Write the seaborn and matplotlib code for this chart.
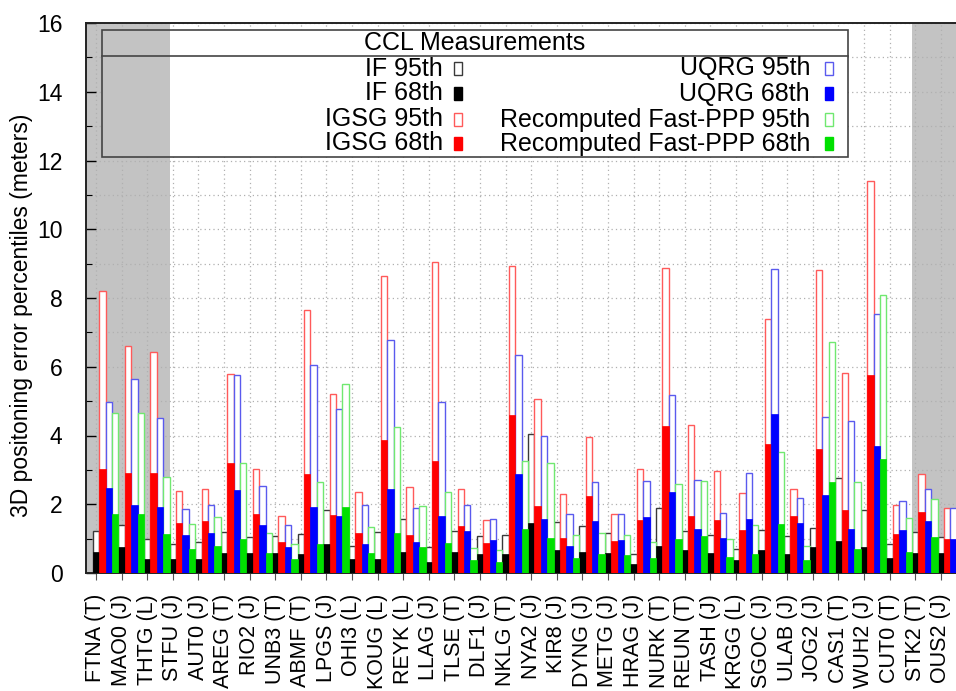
import numpy as np
import pandas as pd
import matplotlib
matplotlib.use("Agg")
import matplotlib.pyplot as plt
from matplotlib.patches import Rectangle
import seaborn as sns

stations = ["FTNA (T)", "MAO0 (J)", "THTG (L)", "STFU (J)", "AUT0 (J)", "AREG (T)",
            "RIO2 (J)", "UNB3 (T)", "ABMF (T)", "LPGS (J)", "OHI3 (L)", "KOUG (L)",
            "REYK (L)", "LLAG (J)", "TLSE (T)", "DLF1 (J)", "NKLG (T)", "NYA2 (J)",
            "KIR8 (J)", "DYNG (J)", "METG (J)", "HRAG (J)", "NURK (T)", "REUN (T)",
            "TASH (J)", "KRGG (L)", "SGOC (J)", "ULAB (J)", "JOG2 (J)", "CAS1 (T)",
            "WUH2 (J)", "CUT0 (T)", "STK2 (T)", "OUS2 (J)"]

if95 = [1.22, 1.40, 1.00, 0.83, 0.89, 1.20, 1.06, 1.08, 1.14, 1.82, 0.78, 1.19,
        1.58, 0.75, 1.23, 1.08, 1.10, 4.04, 1.47, 1.36, 1.16, 0.56, 1.88, 1.21,
        1.11, 0.71, 1.24, 1.09, 1.32, 2.76, 1.84, 0.85, 1.19, 1.05]
if68 = [0.62, 0.75, 0.42, 0.40, 0.40, 0.59, 0.58, 0.58, 0.54, 0.83, 0.42, 0.42,
        0.61, 0.32, 0.61, 0.56, 0.54, 1.45, 0.66, 0.61, 0.58, 0.27, 0.80, 0.68,
        0.58, 0.39, 0.68, 0.56, 0.75, 0.92, 0.76, 0.45, 0.58, 0.58]
igsg95 = [8.19, 6.61, 6.44, 2.40, 2.45, 5.79, 3.03, 1.67, 7.66, 5.21, 2.35, 8.65,
          2.50, 9.06, 2.43, 1.53, 8.92, 5.07, 2.30, 3.95, 1.72, 3.02, 8.86, 4.30,
          2.98, 2.32, 7.39, 2.45, 8.81, 5.81, 11.41, 1.99, 2.88, 1.89]
igsg68 = [3.03, 2.90, 2.90, 1.46, 1.51, 3.19, 1.72, 0.89, 2.88, 1.69, 1.17, 3.87,
          1.11, 3.27, 1.38, 0.87, 4.61, 1.96, 1.01, 2.25, 0.93, 1.55, 4.29, 1.67,
          1.53, 1.26, 3.76, 1.65, 3.60, 1.84, 5.75, 1.14, 1.77, 1.00]
uqrg95 = [4.98, 5.64, 4.51, 1.85, 1.99, 5.75, 2.53, 1.39, 6.06, 4.77, 1.97, 6.79,
          1.88, 4.97, 1.98, 1.58, 6.34, 4.00, 1.72, 2.66, 1.72, 2.67, 5.19, 2.71,
          1.76, 2.91, 8.84, 2.19, 4.55, 4.43, 7.53, 2.09, 2.43, 1.89]
uqrg68 = [2.46, 1.98, 1.92, 1.10, 1.16, 2.42, 1.41, 0.76, 1.92, 1.66, 0.85, 2.43,
          0.89, 1.67, 1.21, 0.95, 2.88, 1.57, 0.79, 1.51, 0.97, 1.63, 2.35, 1.27,
          1.02, 1.58, 4.62, 1.45, 2.28, 1.29, 3.70, 1.24, 1.51, 0.98]
fppp95 = [4.66, 4.66, 2.78, 1.44, 1.62, 3.20, 1.16, 0.85, 2.65, 5.50, 1.34, 4.24,
          1.95, 2.35, 0.74, 0.66, 3.25, 3.20, 1.12, 1.15, 1.10, 0.90, 2.58, 2.69,
          0.98, 1.41, 3.51, 0.78, 6.71, 2.64, 8.09, 1.59, 2.16, np.nan]
fppp68 = [1.72, 1.72, 1.14, 0.70, 0.80, 0.99, 0.58, 0.42, 0.83, 1.92, 0.58, 1.16,
          0.76, 0.87, 0.37, 0.32, 1.28, 1.01, 0.45, 0.56, 0.51, 0.45, 1.00, 1.08,
          0.46, 0.54, 1.43, 0.37, 2.64, 0.70, 3.32, 0.62, 1.06, np.nan]

methods = ["IF", "IGSG", "UQRG", "Recomputed Fast-PPP"]
edge95 = ["#3a3a3a", "#ff5a5a", "#5a5aee", "#70e870"]
fill68 = ["#000000", "#ff0000", "#0000ff", "#00e000"]

rows = []
for i, s in enumerate(stations):
    for m, a95, a68 in zip(methods, [if95, igsg95, uqrg95, fppp95],
                           [if68, igsg68, uqrg68, fppp68]):
        rows.append({"station": s, "method": m, "p95": a95[i], "p68": a68[i]})
df = pd.DataFrame(rows)

plt.rcParams["font.family"] = ["Liberation Sans", "DejaVu Sans"]

W, H = 956, 691
fig = plt.figure(figsize=(W / 100, H / 100), dpi=100)
ax = fig.add_axes([86 / W, 1 - 573 / H, (W - 86) / W, 550 / H])

def px2x(px):
    return (px - 96) / 25.6 - 0.375

def py2y(py):
    return (573 - py) / 34.375

gray = "#c3c3c3"

sns.barplot(data=df, x="station", y="p95", hue="method", order=stations,
            hue_order=methods, palette=["#ffffff"] * 4, width=1.0, dodge=True,
            errorbar=None, legend=False, saturation=1, ax=ax)
for cont, ec in zip(ax.containers[:4], edge95):
    for p in cont:
        p.set_facecolor("white")
        p.set_edgecolor(ec)
        p.set_linewidth(1.0)
        p.set_zorder(2)

sns.barplot(data=df, x="station", y="p68", hue="method", order=stations,
            hue_order=methods, palette=fill68, width=1.0, dodge=True,
            errorbar=None, legend=False, saturation=1, ax=ax)
for cont, fc in zip(ax.containers[4:8], fill68):
    for p in cont:
        p.set_facecolor(fc)
        p.set_edgecolor(fc)
        p.set_linewidth(0.5)
        p.set_zorder(3)

xl = (px2x(86), px2x(956))
ax.set_xlim(*xl)
ax.set_ylim(0, 16)

# shaded regions
ax.axvspan(xl[0], 2.5, color=gray, zorder=0, lw=0)
ax.axvspan(31.5, xl[1], color=gray, zorder=0, lw=0)

ax.set_axisbelow(True)
ax.set_yticks(np.arange(0, 17, 2))
ax.set_yticks(np.arange(1, 16, 2), minor=True)
ax.set_xticks(np.arange(len(stations)) - 0.375)
ax.set_xticklabels(stations, rotation=90, fontsize=15.5)
ax.tick_params(axis="y", which="major", direction="in", length=7, width=1.0,
               labelsize=16.5, pad=17)
ax.tick_params(axis="y", which="minor", direction="in", length=4, width=0.8)
ax.tick_params(axis="x", which="major", direction="out", length=5, width=0.8,
               color="#555555", pad=10)
ax.grid(axis="y", which="both", ls=(0, (1, 2.5)), color="#b0b0b0", lw=0.9)
ax.grid(axis="x", which="major", ls=(0, (1, 2.5)), color="#b0b0b0", lw=0.9)
ax.set_xlabel("")
ax.set_ylabel("")
for side in ["left", "bottom", "top"]:
    ax.spines[side].set_color("#222222")
    ax.spines[side].set_linewidth(1.4)
ax.spines["right"].set_visible(False)

# legend box (gnuplot style)
lx0, lx1 = px2x(101.7), px2x(848)
ly1, ly0 = py2y(30), py2y(156.7)
ax.add_patch(Rectangle((lx0, ly0), lx1 - lx0, ly1 - ly0, facecolor="white",
                       edgecolor="none", zorder=0.6))
ax.add_patch(Rectangle((lx0, ly0), 2.5 - lx0, ly1 - ly0, facecolor=gray,
                       edgecolor="none", zorder=0.7))
ax.add_patch(Rectangle((lx0, ly0), lx1 - lx0, ly1 - ly0, fill=False,
                       edgecolor="#444444", lw=1.2, zorder=4))
ax.plot([lx0, lx1], [py2y(55.7)] * 2, color="#444444", lw=1.2, zorder=4)
ax.text(px2x(475), py2y(43), "CCL Measurements", ha="center", va="center",
        fontsize=18, zorder=5)

row_y = [68.5, 93.5, 119.5, 143.5]
col1 = [("IF 95th", edge95[0], False), ("IF 68th", fill68[0], True),
        ("IGSG 95th", edge95[1], False), ("IGSG 68th", fill68[1], True)]
col2 = [("UQRG 95th", edge95[2], False), ("UQRG 68th", fill68[2], True),
        ("Recomputed Fast-PPP 95th", edge95[3], False),
        ("Recomputed Fast-PPP 68th", fill68[3], True)]
mw, mh = 0.30, 0.38
for (lab, c, filled), ry in zip(col1, row_y):
    ax.text(px2x(443), py2y(ry), lab, ha="right", va="center", fontsize=18, zorder=5)
    ax.add_patch(Rectangle((px2x(458) - mw / 2, py2y(ry) - mh / 2), mw, mh,
                           facecolor=c if filled else "white", edgecolor=c,
                           lw=1.0, zorder=5))
for (lab, c, filled), ry in zip(col2, row_y):
    ax.text(px2x(810), py2y(ry), lab, ha="right", va="center", fontsize=18, zorder=5)
    ax.add_patch(Rectangle((px2x(829) - mw / 2, py2y(ry) - mh / 2), mw, mh,
                           facecolor=c if filled else "white", edgecolor=c,
                           lw=1.0, zorder=5))

fig.text(22 / W, 1 - 315 / H, "3D positoning error percentiles (meters)",
         rotation=90, ha="center", va="center", fontsize=16.5)

fig.savefig("out.png", dpi=100)
